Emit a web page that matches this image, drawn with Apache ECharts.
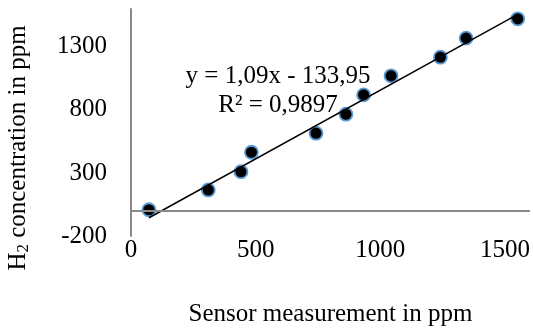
<!DOCTYPE html>
<html>
<head>
<meta charset="utf-8">
<script src="https://cdn.jsdelivr.net/npm/echarts@6/dist/echarts.min.js"></script>
<style>
  html, body { margin: 0; padding: 0; background: #fff; }
  #main { width: 533px; height: 332px; }
</style>
</head>
<body>
<div id="main"></div>
<script>
// sensor reading vs. reference H2 concentration
var sensorPpm = [72, 310, 441, 483, 742, 862, 933, 1043, 1241, 1344, 1551];
var h2Ppm = [8, 165, 310, 464, 615, 766, 919, 1070, 1218, 1369, 1522];

// trendline as printed on the chart
var slope = 1.09;
var intercept = -133.95;
var eqText = ['y = 1,09x - 133,95', 'R² = 0,9897'];

var xTicks = [0, 1600, 500];   // min, max, interval
var yTicks = [-200, 1600, 500];

var font = '"Liberation Serif", "Times New Roman", serif';
var axisGrey = '#898989';

;(function() {
  var myChart = echarts.init(document.getElementById('main'));

  var points = sensorPpm.map(function(x, i) { return [x, h2Ppm[i]]; });
  var xMin = Math.min.apply(null, sensorPpm);
  var xMax = Math.max.apply(null, sensorPpm);
  var trend = [[xMin, slope * xMin + intercept], [xMax, slope * xMax + intercept]];

  // plain numbers, no thousands separator
  var plain = function(v) { return String(v); };

  var option = {
    animation: false,
    grid: { left: 131, right: 3, top: 9, bottom: 96 },
    xAxis: {
      type: 'value',
      min: xTicks[0], max: xTicks[1], interval: xTicks[2],
      axisLine: { show: false },
      axisTick: { show: false },
      splitLine: { show: false },
      axisLabel: { showMaxLabel: false, formatter: plain, margin: 2, color: '#000', fontFamily: font, fontSize: 25 },
      name: 'Sensor measurement in ppm',
      nameLocation: 'middle',
      nameGap: 66,
      nameTextStyle: { color: '#000', fontFamily: font, fontSize: 25 }
    },
    yAxis: {
      type: 'value',
      min: yTicks[0], max: yTicks[1], interval: yTicks[2],
      axisLine: { show: true, lineStyle: { color: axisGrey, width: 2 } },
      axisTick: { show: false },
      splitLine: { show: false },
      axisLabel: { showMaxLabel: false, formatter: plain, margin: 24, color: '#000', fontFamily: font, fontSize: 25 }
    },
    graphic: [
      {
        type: 'text',
        x: 18, y: 148,
        rotation: Math.PI / 2,
        style: {
          text: '{n|H}{s|2}{n| concentration in ppm}',
          align: 'center',
          verticalAlign: 'middle',
          rich: {
            n: { fontFamily: font, fontSize: 25, fill: '#000' },
            s: { fontFamily: font, fontSize: 17, fill: '#000', padding: [12, 0, 0, 0] }
          }
        }
      },
      {
        type: 'text',
        x: 278, y: 91,
        z: 10,
        style: {
          text: eqText.join('\n'),
          align: 'center',
          verticalAlign: 'middle',
          lineHeight: 29,
          fontFamily: font,
          fontSize: 25,
          fill: '#000'
        }
      }
    ],
    series: [
      {
        type: 'line',
        data: trend,
        symbol: 'none',
        lineStyle: { color: '#000', width: 1.5 },
        silent: true,
        markLine: {
          silent: true,
          symbol: 'none',
          label: { show: false },
          lineStyle: { color: axisGrey, width: 2, type: 'solid' },
          data: [{ yAxis: 0 }]
        }
      },
      {
        type: 'scatter',
        data: points,
        symbolSize: 13,
        itemStyle: { color: '#000', borderColor: '#5b9bd5', borderWidth: 1.8, opacity: 1 }
      }
    ]
  };

  myChart.setOption(option);
})()
</script>
</body>
</html>
